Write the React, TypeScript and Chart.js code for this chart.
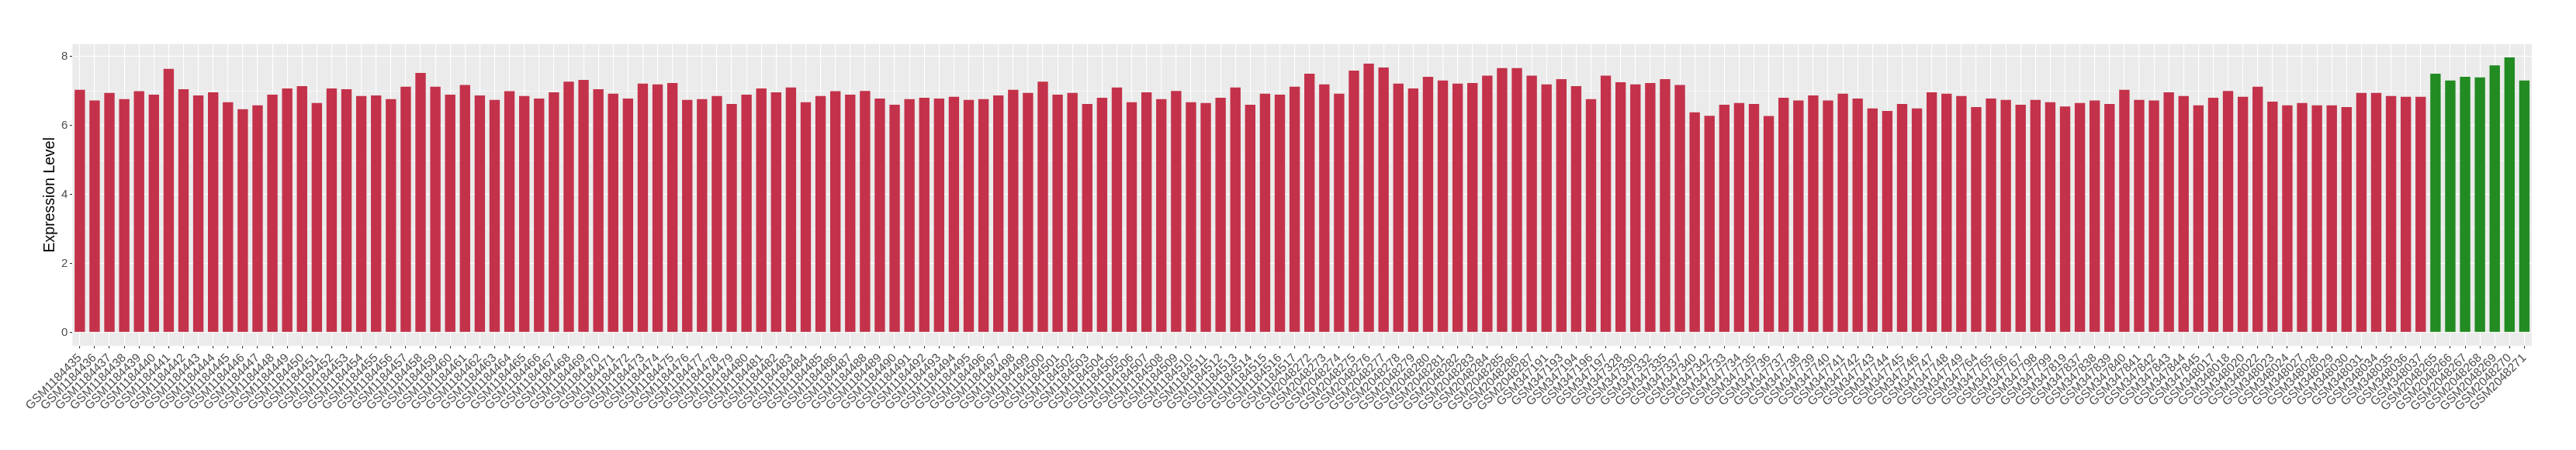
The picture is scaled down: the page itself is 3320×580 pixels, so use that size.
import { useEffect, useRef } from "react";
import { Chart, registerables } from "chart.js";

Chart.register(...registerables);

const sampleIds = [
  "GSM1184435", "GSM1184436", "GSM1184437", "GSM1184438", "GSM1184439", "GSM1184440", "GSM1184441", "GSM1184442", "GSM1184443", "GSM1184444",
  "GSM1184445", "GSM1184446", "GSM1184447", "GSM1184448", "GSM1184449", "GSM1184450", "GSM1184451", "GSM1184452", "GSM1184453", "GSM1184454",
  "GSM1184455", "GSM1184456", "GSM1184457", "GSM1184458", "GSM1184459", "GSM1184460", "GSM1184461", "GSM1184462", "GSM1184463", "GSM1184464",
  "GSM1184465", "GSM1184466", "GSM1184467", "GSM1184468", "GSM1184469", "GSM1184470", "GSM1184471", "GSM1184472", "GSM1184473", "GSM1184474",
  "GSM1184475", "GSM1184476", "GSM1184477", "GSM1184478", "GSM1184479", "GSM1184480", "GSM1184481", "GSM1184482", "GSM1184483", "GSM1184484",
  "GSM1184485", "GSM1184486", "GSM1184487", "GSM1184488", "GSM1184489", "GSM1184490", "GSM1184491", "GSM1184492", "GSM1184493", "GSM1184494",
  "GSM1184495", "GSM1184496", "GSM1184497", "GSM1184498", "GSM1184499", "GSM1184500", "GSM1184501", "GSM1184502", "GSM1184503", "GSM1184504",
  "GSM1184505", "GSM1184506", "GSM1184507", "GSM1184508", "GSM1184509", "GSM1184510", "GSM1184511", "GSM1184512", "GSM1184513", "GSM1184514",
  "GSM1184515", "GSM1184516", "GSM1184517",
  "GSM2048272", "GSM2048273", "GSM2048274", "GSM2048275", "GSM2048276", "GSM2048277", "GSM2048278", "GSM2048279",
  "GSM2048280", "GSM2048281", "GSM2048282", "GSM2048283", "GSM2048284", "GSM2048285", "GSM2048286", "GSM2048287",
  "GSM347191", "GSM347193", "GSM347194", "GSM347196", "GSM347197",
  "GSM347328", "GSM347330", "GSM347332", "GSM347335", "GSM347337", "GSM347340", "GSM347342",
  "GSM347733", "GSM347734", "GSM347735", "GSM347736", "GSM347737", "GSM347738", "GSM347739", "GSM347740", "GSM347741",
  "GSM347742", "GSM347743", "GSM347744", "GSM347745", "GSM347746", "GSM347747", "GSM347748", "GSM347749",
  "GSM347764", "GSM347765", "GSM347766", "GSM347767",
  "GSM347798", "GSM347799", "GSM347819",
  "GSM347837", "GSM347838", "GSM347839", "GSM347840", "GSM347841", "GSM347842", "GSM347843", "GSM347844", "GSM347845",
  "GSM348017", "GSM348018", "GSM348020", "GSM348022", "GSM348023", "GSM348024", "GSM348027", "GSM348028",
  "GSM348029", "GSM348030", "GSM348031", "GSM348034", "GSM348035", "GSM348036", "GSM348037",
  "GSM2048265", "GSM2048266", "GSM2048267", "GSM2048268", "GSM2048269", "GSM2048270", "GSM2048271",
];

const expression = [
  7.03, 6.72, 6.94, 6.76, 6.99, 6.89, 7.64, 7.05, 6.87, 6.96,
  6.67, 6.47, 6.58, 6.89, 7.07, 7.14, 6.65, 7.07, 7.05, 6.85,
  6.87, 6.76, 7.12, 7.52, 7.12, 6.89, 7.17, 6.87, 6.74, 6.99,
  6.85, 6.78, 6.96, 7.27, 7.32, 7.05, 6.92, 6.78, 7.21, 7.19,
  7.23, 6.74, 6.76, 6.85, 6.62, 6.89, 7.07, 6.96, 7.10, 6.67,
  6.85, 6.99, 6.89, 7.00, 6.78, 6.60, 6.76, 6.80, 6.78, 6.83,
  6.74, 6.76, 6.87, 7.03, 6.94, 7.27, 6.89, 6.94, 6.62, 6.80,
  7.10, 6.67, 6.96, 6.76, 7.00, 6.67, 6.65, 6.80, 7.10, 6.60,
  6.92, 6.89, 7.12,
  7.50, 7.19, 6.92, 7.59, 7.79, 7.68, 7.21, 7.07,
  7.41, 7.30, 7.21, 7.23, 7.44, 7.66, 7.66, 7.44,
  7.19, 7.34, 7.14, 6.76, 7.44,
  7.25, 7.19, 7.23, 7.34, 7.17, 6.38, 6.28,
  6.60, 6.65, 6.62, 6.27, 6.80, 6.72, 6.87, 6.72, 6.92,
  6.78, 6.49, 6.42, 6.62, 6.49, 6.96, 6.92, 6.85,
  6.53, 6.78, 6.74, 6.60,
  6.74, 6.67, 6.55,
  6.65, 6.72, 6.62, 7.03, 6.74, 6.72, 6.96, 6.85, 6.58,
  6.80, 7.00, 6.83, 7.12, 6.69, 6.58, 6.65, 6.58,
  6.58, 6.53, 6.94, 6.94, 6.85, 6.83, 6.83,
  7.50, 7.30, 7.41, 7.39, 7.74, 7.97, 7.30,
];

const normalIds = ["GSM2048265", "GSM2048266", "GSM2048267", "GSM2048268", "GSM2048269", "GSM2048270", "GSM2048271"];

const yTickValues = [0, 2, 4, 6, 8];

const RED = "#C3324A";
const GREEN = "#228B22";
const FONT = "'Liberation Sans', Arial, Helvetica, sans-serif";

const W = 3320;
const H = 580;
const PANEL_LEFT = 93.3;
const PANEL_RIGHT = 3263;
const PANEL_TOP = 56.7;
const PANEL_BOTTOM = 445.7;

const panelBackground = {
  id: "panelBackground",
  beforeDraw(chart: any) {
    const { ctx, chartArea: a } = chart;
    ctx.save();
    ctx.fillStyle = "#EBEBEB";
    ctx.fillRect(a.left, a.top, a.right - a.left, a.bottom - a.top);
    ctx.restore();
  },
};

export default function App() {
  const canvasRef = useRef<HTMLCanvasElement | null>(null);

  useEffect(() => {
    if (!canvasRef.current) return;
    const isMajor = (v: number) => yTickValues.includes(v);
    const chart = new Chart(canvasRef.current, {
      type: "bar",
      data: {
        labels: sampleIds,
        datasets: [
          {
            data: expression,
            backgroundColor: sampleIds.map((id) => (normalIds.includes(id) ? GREEN : RED)),
            borderWidth: 0,
            barPercentage: 0.7,
            categoryPercentage: 1.0,
          },
        ],
      },
      options: {
        responsive: false,
        maintainAspectRatio: false,
        animation: false,
        devicePixelRatio: 1,
        layout: { padding: { top: PANEL_TOP, right: W - PANEL_RIGHT, bottom: 0, left: 0 } },
        plugins: { legend: { display: false }, tooltip: { enabled: false } },
        scales: {
          x: {
            type: "category",
            offset: true,
            border: { display: false },
            grid: {
              offset: false,
              color: "#FFFFFF",
              lineWidth: 1.1,
              drawTicks: true,
              tickLength: 3.3,
              tickColor: "#333333",
              tickWidth: 1.1,
            },
            ticks: {
              autoSkip: false,
              maxRotation: 45,
              minRotation: 45,
              padding: 3.4,
              color: "#4D4D4D",
              font: { family: FONT, size: 15.5 },
            },
            afterFit: (s: any) => {
              s.height = H - PANEL_BOTTOM;
            },
          },
          y: {
            min: -0.39,
            max: 8.36,
            border: { display: false },
            grid: {
              color: "#FFFFFF",
              lineWidth: (c: any) => (c.tick && isMajor(c.tick.value) ? 1.1 : 0.55),
              drawTicks: true,
              tickLength: 3.3,
              tickColor: (c: any) => (c.tick && isMajor(c.tick.value) ? "#333333" : "rgba(0,0,0,0)"),
              tickWidth: 1.1,
            },
            ticks: {
              stepSize: 1,
              includeBounds: false,
              padding: 2.7,
              color: "#4D4D4D",
              font: { family: FONT, size: 15 },
              callback: (v: any) => (isMajor(Number(v)) ? String(v) : ""),
            },
            title: {
              display: true,
              text: "Expression Level",
              color: "#000000",
              font: { family: FONT, size: 19.5 },
              padding: { top: 53.3, bottom: 0 },
            },
            afterFit: (s: any) => {
              s.width = PANEL_LEFT;
            },
          },
        },
      },
      plugins: [panelBackground],
    } as any);
    return () => chart.destroy();
  }, []);

  return (
    <div style={{ position: "absolute", left: 0, top: 0, width: W, height: H, background: "#FFFFFF" }}>
      <canvas ref={canvasRef} width={W} height={H} style={{ width: W, height: H, display: "block" }} />
    </div>
  );
}
